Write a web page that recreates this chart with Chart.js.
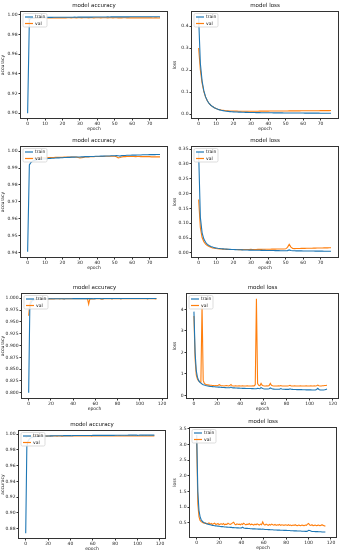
<!DOCTYPE html>
<html>
<head>
<meta charset="utf-8">
<script src="https://cdn.jsdelivr.net/npm/chart.js@4.4.1/dist/chart.umd.min.js"></script>
<style>
  body { margin: 0; background: #fff; width: 342px; height: 550px; position: relative; overflow: hidden; }
  canvas { position: absolute; }
</style>
</head>
<body>
<script>
// ---- data ----
const seriesNames = ['train', 'val'];

// run 1 : 77 epochs
const acc1Train = [
  0.8999, 0.9952, 0.9965, 0.9969, 0.9971, 0.9972, 0.9973, 0.9973, 0.9974, 0.9974,
  0.9974, 0.9975, 0.9975, 0.9975, 0.9975, 0.9976, 0.9976, 0.9976, 0.9976, 0.9976,
  0.9977, 0.9977, 0.9977, 0.9977, 0.9977, 0.9977, 0.9977, 0.9978, 0.9977, 0.9978,
  0.9978, 0.9978, 0.9978, 0.9978, 0.9978, 0.9978, 0.9979, 0.9978, 0.9979, 0.9979,
  0.9979, 0.9979, 0.9979, 0.9979, 0.9979, 0.9979, 0.9980, 0.9979, 0.9980, 0.9980,
  0.9980, 0.9980, 0.9980, 0.9980, 0.9980, 0.9980, 0.9980, 0.9981, 0.9980, 0.9981,
  0.9981, 0.9981, 0.9981, 0.9981, 0.9981, 0.9981, 0.9981, 0.9981, 0.9981, 0.9982,
  0.9982, 0.9981, 0.9982, 0.9982, 0.9982, 0.9982, 0.9982
];
const acc1Val = [
  0.9962, 0.9965, 0.9967, 0.9968, 0.9968, 0.9969, 0.9969, 0.9969, 0.9970, 0.9969,
  0.9970, 0.9970, 0.9969, 0.9970, 0.9970, 0.9970, 0.9971, 0.9970, 0.9970, 0.9971,
  0.9970, 0.9971, 0.9970, 0.9971, 0.9971, 0.9970, 0.9971, 0.9971, 0.9970, 0.9971,
  0.9971, 0.9970, 0.9971, 0.9971, 0.9971, 0.9970, 0.9971, 0.9971, 0.9970, 0.9971,
  0.9971, 0.9971, 0.9970, 0.9971, 0.9971, 0.9971, 0.9970, 0.9971, 0.9971, 0.9970,
  0.9971, 0.9971, 0.9970, 0.9971, 0.9970, 0.9971, 0.9971, 0.9970, 0.9971, 0.9970,
  0.9971, 0.9970, 0.9970, 0.9971, 0.9970, 0.9970, 0.9971, 0.9970, 0.9970, 0.9970,
  0.9970, 0.9970, 0.9969, 0.9970, 0.9970, 0.9969, 0.9970
];
const loss1Train = [
  0.440, 0.230, 0.150, 0.105, 0.078, 0.060, 0.048, 0.040, 0.034, 0.029,
  0.025, 0.022, 0.019, 0.017, 0.0155, 0.014, 0.013, 0.012, 0.0112, 0.0105,
  0.0100, 0.0095, 0.0091, 0.0088, 0.0085, 0.0082, 0.0080, 0.0077, 0.0075, 0.0073,
  0.0071, 0.0069, 0.0068, 0.0066, 0.0065, 0.0063, 0.0062, 0.0061, 0.0060, 0.0059,
  0.0058, 0.0057, 0.0056, 0.0055, 0.0054, 0.0053, 0.0053, 0.0052, 0.0051, 0.0050,
  0.0050, 0.0049, 0.0048, 0.0048, 0.0047, 0.0047, 0.0046, 0.0045, 0.0045, 0.0044,
  0.0044, 0.0043, 0.0043, 0.0042, 0.0042, 0.0041, 0.0041, 0.0041, 0.0040, 0.0040,
  0.0039, 0.0039, 0.0039, 0.0038, 0.0038, 0.0038, 0.0037
];
const loss1Val = [
  0.300, 0.200, 0.140, 0.102, 0.077, 0.060, 0.048, 0.040, 0.034, 0.029,
  0.025, 0.022, 0.020, 0.018, 0.017, 0.016, 0.015, 0.0145, 0.014, 0.0138,
  0.0135, 0.0133, 0.0131, 0.0130, 0.0129, 0.0129, 0.0128, 0.0128, 0.0128, 0.0128,
  0.0128, 0.0129, 0.0129, 0.0130, 0.0130, 0.0131, 0.0131, 0.0132, 0.0133, 0.0133,
  0.0134, 0.0135, 0.0135, 0.0136, 0.0137, 0.0137, 0.0138, 0.0139, 0.0139, 0.0140,
  0.0141, 0.0141, 0.0142, 0.0143, 0.0143, 0.0144, 0.0145, 0.0145, 0.0146, 0.0147,
  0.0147, 0.0148, 0.0149, 0.0149, 0.0150, 0.0151, 0.0151, 0.0152, 0.0153, 0.0153,
  0.0154, 0.0155, 0.0155, 0.0156, 0.0157, 0.0157, 0.0158
];

// run 2 : 77 epochs
const acc2Train = [
  0.9406, 0.9918, 0.9934, 0.9941, 0.9945, 0.9948, 0.9950, 0.9951, 0.9952, 0.9953,
  0.9954, 0.9955, 0.9956, 0.9957, 0.9958, 0.9958, 0.9959, 0.9960, 0.9960, 0.9961,
  0.9961, 0.9962, 0.9962, 0.9963, 0.9963, 0.9964, 0.9964, 0.9964, 0.9965, 0.9965,
  0.9965, 0.9966, 0.9966, 0.9967, 0.9967, 0.9967, 0.9968, 0.9968, 0.9968, 0.9969,
  0.9969, 0.9969, 0.9970, 0.9970, 0.9970, 0.9971, 0.9971, 0.9971, 0.9972, 0.9972,
  0.9972, 0.9973, 0.9972, 0.9970, 0.9973, 0.9974, 0.9974, 0.9975, 0.9975, 0.9975,
  0.9976, 0.9976, 0.9976, 0.9977, 0.9977, 0.9977, 0.9978, 0.9978, 0.9978, 0.9978,
  0.9979, 0.9979, 0.9979, 0.9979, 0.9980, 0.9980, 0.9980
];
const acc2Val = [
  0.9955, 0.9957, 0.9958, 0.9958, 0.9959, 0.9959, 0.9960, 0.9960, 0.9960, 0.9961,
  0.9961, 0.9961, 0.9962, 0.9962, 0.9962, 0.9962, 0.9963, 0.9963, 0.9963, 0.9963,
  0.9963, 0.9964, 0.9964, 0.9964, 0.9964, 0.9964, 0.9965, 0.9965, 0.9964, 0.9962,
  0.9960, 0.9961, 0.9963, 0.9965, 0.9966, 0.9966, 0.9967, 0.9967, 0.9967, 0.9968,
  0.9968, 0.9968, 0.9968, 0.9968, 0.9969, 0.9969, 0.9969, 0.9969, 0.9969, 0.9969,
  0.9969, 0.9966, 0.9960, 0.9962, 0.9965, 0.9967, 0.9967, 0.9968, 0.9968, 0.9968,
  0.9968, 0.9968, 0.9967, 0.9968, 0.9968, 0.9967, 0.9967, 0.9967, 0.9967, 0.9967,
  0.9967, 0.9966, 0.9966, 0.9966, 0.9966, 0.9966, 0.9966
];
const loss2Train = [
  0.340, 0.120, 0.068, 0.047, 0.036, 0.029, 0.025, 0.022, 0.020, 0.018,
  0.0170, 0.0160, 0.0152, 0.0145, 0.0140, 0.0135, 0.0130, 0.0126, 0.0122, 0.0119,
  0.0116, 0.0113, 0.0111, 0.0109, 0.0107, 0.0105, 0.0103, 0.0101, 0.0099, 0.0098,
  0.0096, 0.0095, 0.0094, 0.0092, 0.0091, 0.0090, 0.0089, 0.0088, 0.0087, 0.0086,
  0.0085, 0.0084, 0.0083, 0.0082, 0.0081, 0.0080, 0.0079, 0.0078, 0.0078, 0.0077,
  0.0076, 0.0080, 0.0105, 0.0085, 0.0074, 0.0073, 0.0072, 0.0071, 0.0071, 0.0070,
  0.0069, 0.0068, 0.0068, 0.0067, 0.0066, 0.0066, 0.0065, 0.0064, 0.0064, 0.0063,
  0.0062, 0.0062, 0.0061, 0.0061, 0.0060, 0.0060, 0.0059
];
const loss2Val = [
  0.180, 0.085, 0.052, 0.038, 0.030, 0.025, 0.022, 0.019, 0.017, 0.016,
  0.0150, 0.0143, 0.0137, 0.0133, 0.0129, 0.0126, 0.0123, 0.0121, 0.0119, 0.0118,
  0.0117, 0.0116, 0.0116, 0.0115, 0.0115, 0.0115, 0.0116, 0.0116, 0.0117, 0.0118,
  0.0122, 0.0120, 0.0119, 0.0120, 0.0121, 0.0122, 0.0123, 0.0124, 0.0125, 0.0126,
  0.0127, 0.0128, 0.0129, 0.0130, 0.0131, 0.0132, 0.0133, 0.0134, 0.0135, 0.0136,
  0.0140, 0.0190, 0.0290, 0.0200, 0.0150, 0.0148, 0.0150, 0.0152, 0.0153, 0.0154,
  0.0156, 0.0157, 0.0158, 0.0160, 0.0161, 0.0162, 0.0163, 0.0165, 0.0166, 0.0167,
  0.0168, 0.0170, 0.0171, 0.0172, 0.0174, 0.0175, 0.0176
];

// run 3 : 116 epochs
const acc3Train = [
  0.800, 0.975, 0.990, 0.994, 0.996, 0.997, 0.9975, 0.9978, 0.9980, 0.9982,
  0.9983, 0.9984, 0.9985, 0.9985, 0.9986, 0.9986, 0.9987, 0.9987, 0.9987, 0.9988,
  0.9988, 0.9988, 0.9989, 0.9989, 0.9989, 0.9989, 0.9990, 0.9990, 0.9990, 0.9990,
  0.9990, 0.9989, 0.9987, 0.9990, 0.9991, 0.9991, 0.9991, 0.9991, 0.9991, 0.9991,
  0.9992, 0.9992, 0.9992, 0.9992, 0.9992, 0.9992, 0.9992, 0.9993, 0.9993, 0.9993,
  0.9993, 0.9993, 0.9993, 0.9993, 0.9993, 0.9992, 0.9993, 0.9993, 0.9990, 0.9993,
  0.9993, 0.9994, 0.9994, 0.9994, 0.9994, 0.9993, 0.9991, 0.9993, 0.9994, 0.9994,
  0.9994, 0.9994, 0.9994, 0.9994, 0.9994, 0.9993, 0.9994, 0.9994, 0.9994, 0.9995,
  0.9995, 0.9995, 0.9995, 0.9993, 0.9995, 0.9995, 0.9995, 0.9995, 0.9995, 0.9995,
  0.9995, 0.9995, 0.9995, 0.9995, 0.9995, 0.9995, 0.9995, 0.9996, 0.9996, 0.9996,
  0.9996, 0.9996, 0.9996, 0.9996, 0.9996, 0.9996, 0.9995, 0.9993, 0.9995, 0.9996,
  0.9996, 0.9996, 0.9996, 0.9996, 0.9995, 0.9995
];
const acc3Val = [
  0.963, 0.988, 0.995, 0.997, 0.9978, 0.9980, 0.9982, 0.9970, 0.9980, 0.9984,
  0.9985, 0.9986, 0.9986, 0.9986, 0.9987, 0.9987, 0.9987, 0.9987, 0.9988, 0.9987,
  0.9988, 0.9987, 0.9985, 0.9987, 0.9988, 0.9988, 0.9988, 0.9988, 0.9987, 0.9988,
  0.9988, 0.9987, 0.9985, 0.9988, 0.9988, 0.9988, 0.9988, 0.9988, 0.9988, 0.9988,
  0.9988, 0.9988, 0.9988, 0.9988, 0.9988, 0.9988, 0.9988, 0.9988, 0.9988, 0.9988,
  0.9988, 0.9988, 0.9988, 0.9984, 0.9875, 0.9980, 0.9986, 0.9987, 0.9983, 0.9987,
  0.9988, 0.9988, 0.9988, 0.9988, 0.9988, 0.9987, 0.9982, 0.9987, 0.9988, 0.9988,
  0.9988, 0.9988, 0.9988, 0.9988, 0.9988, 0.9987, 0.9988, 0.9988, 0.9988, 0.9988,
  0.9988, 0.9988, 0.9988, 0.9987, 0.9988, 0.9988, 0.9988, 0.9988, 0.9988, 0.9988,
  0.9988, 0.9988, 0.9988, 0.9988, 0.9988, 0.9988, 0.9988, 0.9988, 0.9988, 0.9988,
  0.9988, 0.9988, 0.9988, 0.9988, 0.9988, 0.9988, 0.9988, 0.9986, 0.9988, 0.9988,
  0.9988, 0.9988, 0.9988, 0.9988, 0.9987, 0.9987
];
const loss3Train = [
  3.90, 2.00, 1.15, 0.85, 0.70, 0.62, 0.57, 0.53, 0.50, 0.48,
  0.46, 0.45, 0.44, 0.43, 0.42, 0.415, 0.41, 0.405, 0.40, 0.395,
  0.39, 0.385, 0.385, 0.38, 0.375, 0.37, 0.37, 0.365, 0.36, 0.36,
  0.355, 0.36, 0.39, 0.36, 0.35, 0.35, 0.345, 0.345, 0.34, 0.34,
  0.335, 0.335, 0.33, 0.33, 0.33, 0.325, 0.325, 0.32, 0.32, 0.32,
  0.315, 0.315, 0.31, 0.31, 0.31, 0.33, 0.32, 0.31, 0.37, 0.33,
  0.31, 0.30, 0.30, 0.30, 0.30, 0.31, 0.35, 0.32, 0.30, 0.295,
  0.29, 0.29, 0.29, 0.29, 0.29, 0.32, 0.295, 0.285, 0.285, 0.28,
  0.28, 0.28, 0.28, 0.31, 0.285, 0.28, 0.275, 0.275, 0.275, 0.27,
  0.27, 0.27, 0.27, 0.27, 0.265, 0.265, 0.265, 0.26, 0.26, 0.26,
  0.26, 0.26, 0.255, 0.255, 0.255, 0.26, 0.28, 0.33, 0.28, 0.26,
  0.255, 0.25, 0.25, 0.26, 0.28, 0.30
];
const loss3Val = [
  3.70, 1.70, 0.95, 0.76, 0.68, 0.64, 0.62, 4.20, 0.70, 0.56,
  0.52, 0.50, 0.49, 0.48, 0.47, 0.47, 0.46, 0.46, 0.45, 0.46,
  0.45, 0.47, 0.50, 0.46, 0.45, 0.45, 0.44, 0.45, 0.46, 0.45,
  0.44, 0.46, 0.51, 0.45, 0.44, 0.44, 0.45, 0.44, 0.44, 0.45,
  0.44, 0.44, 0.45, 0.44, 0.44, 0.44, 0.45, 0.44, 0.44, 0.44,
  0.44, 0.45, 0.44, 0.50, 4.50, 0.55, 0.47, 0.45, 0.56, 0.47,
  0.45, 0.44, 0.44, 0.45, 0.44, 0.46, 0.56, 0.47, 0.45, 0.44,
  0.44, 0.44, 0.44, 0.45, 0.44, 0.46, 0.44, 0.44, 0.44, 0.44,
  0.44, 0.44, 0.45, 0.47, 0.44, 0.44, 0.44, 0.45, 0.44, 0.44,
  0.44, 0.44, 0.45, 0.44, 0.44, 0.44, 0.44, 0.45, 0.44, 0.44,
  0.44, 0.45, 0.44, 0.44, 0.45, 0.44, 0.45, 0.48, 0.45, 0.44,
  0.44, 0.45, 0.45, 0.46, 0.46, 0.47
];

// run 4 : 116 epochs
const acc4Train = [
  0.874, 0.984, 0.991, 0.9935, 0.9948, 0.9955, 0.9960, 0.9963, 0.9966, 0.9968,
  0.9970, 0.9971, 0.9972, 0.9973, 0.9974, 0.9975, 0.9975, 0.9976, 0.9976, 0.9977,
  0.9977, 0.9977, 0.9978, 0.9978, 0.9978, 0.9979, 0.9979, 0.9979, 0.9979, 0.9980,
  0.9980, 0.9980, 0.9980, 0.9980, 0.9981, 0.9981, 0.9981, 0.9981, 0.9981, 0.9981,
  0.9981, 0.9980, 0.9981, 0.9982, 0.9982, 0.9982, 0.9982, 0.9982, 0.9982, 0.9982,
  0.9983, 0.9983, 0.9983, 0.9983, 0.9983, 0.9983, 0.9983, 0.9983, 0.9983, 0.9983,
  0.9984, 0.9984, 0.9984, 0.9984, 0.9984, 0.9984, 0.9984, 0.9984, 0.9984, 0.9985,
  0.9985, 0.9985, 0.9985, 0.9985, 0.9985, 0.9985, 0.9985, 0.9985, 0.9985, 0.9985,
  0.9986, 0.9986, 0.9986, 0.9986, 0.9986, 0.9986, 0.9986, 0.9986, 0.9986, 0.9986,
  0.9986, 0.9986, 0.9987, 0.9987, 0.9987, 0.9987, 0.9987, 0.9987, 0.9987, 0.9987,
  0.9985, 0.9986, 0.9987, 0.9987, 0.9987, 0.9987, 0.9987, 0.9988, 0.9988, 0.9988,
  0.9988, 0.9988, 0.9988, 0.9988, 0.9988, 0.9988
];
const acc4Val = [
  0.9958, 0.9966, 0.9970, 0.9972, 0.9973, 0.9974, 0.9974, 0.9975, 0.9974, 0.9975,
  0.9975, 0.9974, 0.9976, 0.9975, 0.9976, 0.9975, 0.9975, 0.9976, 0.9976, 0.9975,
  0.9976, 0.9976, 0.9975, 0.9976, 0.9976, 0.9977, 0.9976, 0.9976, 0.9975, 0.9976,
  0.9976, 0.9976, 0.9975, 0.9974, 0.9976, 0.9977, 0.9976, 0.9976, 0.9976, 0.9977,
  0.9976, 0.9977, 0.9976, 0.9976, 0.9977, 0.9976, 0.9977, 0.9976, 0.9977, 0.9977,
  0.9977, 0.9977, 0.9976, 0.9977, 0.9977, 0.9977, 0.9977, 0.9976, 0.9977, 0.9975,
  0.9977, 0.9977, 0.9977, 0.9977, 0.9978, 0.9977, 0.9977, 0.9977, 0.9977, 0.9978,
  0.9977, 0.9978, 0.9977, 0.9977, 0.9977, 0.9978, 0.9977, 0.9978, 0.9978, 0.9977,
  0.9978, 0.9978, 0.9977, 0.9978, 0.9978, 0.9978, 0.9977, 0.9978, 0.9977, 0.9978,
  0.9978, 0.9978, 0.9978, 0.9978, 0.9977, 0.9978, 0.9978, 0.9977, 0.9978, 0.9977,
  0.9976, 0.9977, 0.9978, 0.9977, 0.9978, 0.9978, 0.9977, 0.9978, 0.9978, 0.9977,
  0.9978, 0.9978, 0.9977, 0.9978, 0.9978, 0.9978
];
const loss4Train = [
  3.30, 1.50, 0.90, 0.70, 0.60, 0.55, 0.52, 0.50, 0.48, 0.47,
  0.46, 0.45, 0.44, 0.43, 0.42, 0.415, 0.41, 0.405, 0.40, 0.395,
  0.39, 0.385, 0.38, 0.38, 0.375, 0.37, 0.37, 0.365, 0.36, 0.36,
  0.355, 0.355, 0.35, 0.35, 0.345, 0.345, 0.34, 0.34, 0.335, 0.335,
  0.34, 0.36, 0.335, 0.33, 0.325, 0.325, 0.32, 0.32, 0.315, 0.315,
  0.31, 0.31, 0.31, 0.305, 0.305, 0.30, 0.30, 0.30, 0.295, 0.30,
  0.295, 0.29, 0.29, 0.29, 0.285, 0.285, 0.28, 0.28, 0.28, 0.275,
  0.275, 0.275, 0.27, 0.27, 0.27, 0.265, 0.265, 0.265, 0.26, 0.26,
  0.26, 0.255, 0.255, 0.255, 0.25, 0.25, 0.25, 0.245, 0.245, 0.245,
  0.24, 0.24, 0.24, 0.24, 0.235, 0.235, 0.235, 0.23, 0.23, 0.235,
  0.26, 0.255, 0.24, 0.23, 0.225, 0.225, 0.22, 0.22, 0.22, 0.215,
  0.215, 0.215, 0.21, 0.21, 0.21, 0.21
];
const loss4Val = [
  3.05, 1.10, 0.70, 0.58, 0.54, 0.52, 0.50, 0.49, 0.50, 0.47,
  0.48, 0.50, 0.46, 0.48, 0.45, 0.47, 0.49, 0.45, 0.46, 0.48,
  0.44, 0.46, 0.47, 0.45, 0.48, 0.44, 0.46, 0.45, 0.49, 0.46,
  0.45, 0.47, 0.50, 0.52, 0.46, 0.44, 0.47, 0.45, 0.46, 0.44,
  0.47, 0.45, 0.49, 0.46, 0.44, 0.46, 0.45, 0.48, 0.44, 0.46,
  0.45, 0.43, 0.46, 0.44, 0.47, 0.45, 0.43, 0.46, 0.44, 0.53,
  0.45, 0.43, 0.46, 0.44, 0.42, 0.45, 0.43, 0.46, 0.44, 0.43,
  0.45, 0.42, 0.44, 0.43, 0.45, 0.42, 0.44, 0.43, 0.42, 0.44,
  0.43, 0.42, 0.44, 0.42, 0.43, 0.41, 0.43, 0.42, 0.44, 0.42,
  0.41, 0.43, 0.42, 0.41, 0.43, 0.42, 0.41, 0.43, 0.42, 0.46,
  0.48, 0.43, 0.42, 0.44, 0.41, 0.42, 0.43, 0.41, 0.42, 0.43,
  0.41, 0.42, 0.44, 0.42, 0.41, 0.39
];

// tick labels
const xTicksShort = [0, 10, 20, 30, 40, 50, 60, 70];
const xTicksLong = [0, 20, 40, 60, 80, 100, 120];
const acc1Ticks = [0.90, 0.92, 0.94, 0.96, 0.98, 1.00];
const loss1Ticks = [0.0, 0.1, 0.2, 0.3, 0.4];
const acc2Ticks = [0.94, 0.95, 0.96, 0.97, 0.98, 0.99, 1.00];
const loss2Ticks = [0.00, 0.05, 0.10, 0.15, 0.20, 0.25, 0.30, 0.35];
const acc3Ticks = [0.800, 0.825, 0.850, 0.875, 0.900, 0.925, 0.950, 0.975, 1.000];
const loss3Ticks = [0, 1, 2, 3, 4];
const acc4Ticks = [0.88, 0.90, 0.92, 0.94, 0.96, 0.98, 1.00];
const loss4Ticks = [0.5, 1.0, 1.5, 2.0, 2.5, 3.0, 3.5];

// ---- drawing ----
Chart.defaults.font.family = 'DejaVu Sans';
Chart.defaults.color = '#222';

const TRAIN_COLOR = '#1f77b4';
const VAL_COLOR = '#ff7f0e';
const TITLE_H = 12;
const X_H = 14;

// axes frame + matplotlib-like legend box (upper left, inside axes)
const frameAndLegend = {
  id: 'frameAndLegend',
  afterDatasetsDraw(chart) {
    const { ctx, chartArea: a } = chart;
    ctx.save();
    ctx.strokeStyle = '#333';
    ctx.lineWidth = 1;
    const l = Math.round(a.left) - 0.5, t = Math.round(a.top) - 0.5;
    ctx.strokeRect(l, t, Math.round(a.right) - Math.round(a.left) + 1, Math.round(a.bottom) - Math.round(a.top) + 1);

    const x = Math.round(a.left) + 2, y = Math.round(a.top) + 1.5;
    ctx.fillStyle = 'rgba(255,255,255,0.85)';
    ctx.strokeStyle = '#d4d4d4';
    ctx.lineWidth = 0.8;
    ctx.beginPath();
    ctx.roundRect(x, y, 24, 13.5, 1.5);
    ctx.fill();
    ctx.stroke();

    ctx.font = '4.5px "DejaVu Sans"';
    ctx.textBaseline = 'middle';
    chart.data.datasets.forEach((ds, i) => {
      const ly = y + 3.5 + i * 6.5;
      ctx.strokeStyle = ds.borderColor;
      ctx.lineWidth = 1.2;
      ctx.beginPath();
      ctx.moveTo(x + 2, ly);
      ctx.lineTo(x + 10, ly);
      ctx.stroke();
      ctx.fillStyle = '#222';
      ctx.fillText(ds.label, x + 12, ly);
    });
    ctx.restore();
  }
};

function points(values) {
  return values.map((v, i) => ({ x: i, y: v }));
}

function makePanel(p) {
  const [left, top, right, bottom] = p.area;
  const yW = left - p.canvasLeft;
  const padRight = 3;
  const cv = document.createElement('canvas');
  cv.width = yW + (right - left) + padRight;
  cv.height = TITLE_H + (bottom - top) + X_H;
  cv.style.left = p.canvasLeft + 'px';
  cv.style.top = (top - TITLE_H) + 'px';
  document.body.appendChild(cv);

  const tickFont = { size: 4.5 };
  new Chart(cv, {
    type: 'line',
    data: {
      datasets: [
        { label: seriesNames[0], data: points(p.train), borderColor: TRAIN_COLOR },
        { label: seriesNames[1], data: points(p.val), borderColor: VAL_COLOR }
      ]
    },
    options: {
      responsive: false,
      animation: false,
      devicePixelRatio: 1,
      layout: { padding: { left: 0, right: padRight, top: 0, bottom: 0 } },
      elements: {
        line: { borderWidth: 1.1, tension: 0 },
        point: { radius: 0 }
      },
      plugins: {
        legend: { display: false },
        tooltip: { enabled: false },
        title: {
          display: true,
          text: p.title,
          fullSize: false,
          color: '#111',
          font: { size: 5.5, weight: 'normal', lineHeight: 1.2 },
          padding: { top: 2, bottom: 3.4 }
        }
      },
      scales: {
        x: {
          type: 'linear',
          min: p.xMin,
          max: p.xMax,
          afterBuildTicks: s => { s.ticks = p.xTicks.map(v => ({ value: v })); },
          afterFit: s => { s.height = X_H; },
          ticks: { font: tickFont, padding: 0.5, maxRotation: 0, autoSkip: false, color: '#222' },
          grid: { drawOnChartArea: false, drawTicks: true, tickLength: 2.5, color: '#333' },
          border: { display: false },
          title: { display: true, text: 'epoch', font: tickFont, padding: 0, color: '#222' }
        },
        y: {
          min: p.yMin,
          max: p.yMax,
          afterBuildTicks: s => { s.ticks = p.yTicks.map(v => ({ value: v })); },
          afterFit: s => { s.width = yW; },
          ticks: {
            font: tickFont, padding: 1, autoSkip: false, color: '#222',
            callback: v => v.toFixed(p.decimals)
          },
          grid: { drawOnChartArea: false, drawTicks: true, tickLength: 2.5, color: '#333' },
          border: { display: false },
          title: { display: true, text: p.yLabel, font: tickFont, padding: 0, color: '#222' }
        }
      }
    },
    plugins: [frameAndLegend]
  });
}

const panels = [
  { title: 'model accuracy', yLabel: 'accuracy', train: acc1Train, val: acc1Val, yTicks: acc1Ticks, decimals: 2,
    yMin: 0.895, yMax: 1.003, xTicks: xTicksShort, xMin: -3.8, xMax: 80, canvasLeft: 0, area: [21, 12, 167, 118] },
  { title: 'model loss', yLabel: 'loss', train: loss1Train, val: loss1Val, yTicks: loss1Ticks, decimals: 1,
    yMin: -0.018, yMax: 0.464, xTicks: xTicksShort, xMin: -3.8, xMax: 80, canvasLeft: 172, area: [192, 12, 338, 118] },
  { title: 'model accuracy', yLabel: 'accuracy', train: acc2Train, val: acc2Val, yTicks: acc2Ticks, decimals: 2,
    yMin: 0.9375, yMax: 1.0024, xTicks: xTicksShort, xMin: -3.8, xMax: 80, canvasLeft: 0, area: [21, 147, 167, 257] },
  { title: 'model loss', yLabel: 'loss', train: loss2Train, val: loss2Val, yTicks: loss2Ticks, decimals: 2,
    yMin: -0.0135, yMax: 0.357, xTicks: xTicksShort, xMin: -3.8, xMax: 80, canvasLeft: 172, area: [192, 147, 338, 257] },
  { title: 'model accuracy', yLabel: 'accuracy', train: acc3Train, val: acc3Val, yTicks: acc3Ticks, decimals: 3,
    yMin: 0.789, yMax: 1.009, xTicks: xTicksLong, xMin: -6, xMax: 124.5, canvasLeft: 0, area: [22, 294, 167, 398] },
  { title: 'model loss', yLabel: 'loss', train: loss3Train, val: loss3Val, yTicks: loss3Ticks, decimals: 0,
    yMin: -0.12, yMax: 4.72, xTicks: xTicksLong, xMin: -6, xMax: 124.5, canvasLeft: 172, area: [187, 294, 338, 398] },
  { title: 'model accuracy', yLabel: 'accuracy', train: acc4Train, val: acc4Val, yTicks: acc4Ticks, decimals: 2,
    yMin: 0.868, yMax: 1.004, xTicks: xTicksLong, xMin: -6, xMax: 124.5, canvasLeft: 0, area: [19, 431, 165, 538] },
  { title: 'model loss', yLabel: 'loss', train: loss4Train, val: loss4Val, yTicks: loss4Ticks, decimals: 1,
    yMin: 0.05, yMax: 3.52, xTicks: xTicksLong, xMin: -6, xMax: 124.5, canvasLeft: 172, area: [190, 428, 336, 537] }
];

panels.forEach(makePanel);
</script>
</body>
</html>
